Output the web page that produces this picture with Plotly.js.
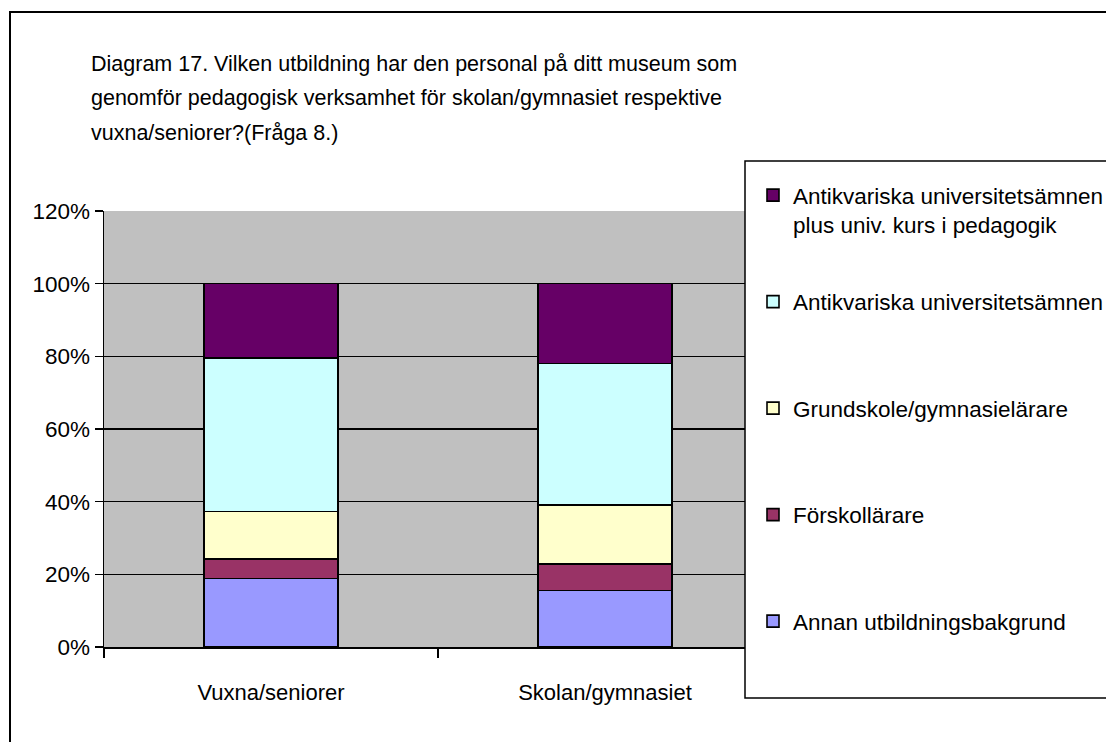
<!DOCTYPE html>
<html><head><meta charset="utf-8">
<script src="https://cdn.plot.ly/plotly-3.0.1.min.js"></script>
<style>html,body{margin:0;padding:0;background:#fff}#chart{width:1106px;height:742px}</style>
</head><body><div id="chart"></div>
<script>
// ---- data ----
const categories = ['Vuxna/seniorer', 'Skolan/gymnasiet'];
const annan = [18.8, 15.5];          // Annan utbildningsbakgrund
const forskol = [5.5, 7.3];          // Förskollärare
const grundskole = [13.0, 16.3];     // Grundskole/gymnasielärare
const antikv = [42.2, 38.9];         // Antikvariska universitetsämnen
const antikvPed = [20.5, 22.0];      // Antikvariska universitetsämnen plus univ. kurs i pedagogik
const seriesNames = [
  'Annan utbildningsbakgrund',
  'Förskollärare',
  'Grundskole/gymnasielärare',
  'Antikvariska universitetsämnen',
  'Antikvariska universitetsämnen<br>plus univ. kurs i pedagogik'
];
const seriesValues = [annan, forskol, grundskole, antikv, antikvPed];
const seriesColors = ['#9999FF', '#993366', '#FFFFCC', '#CCFFFF', '#660066'];
const yTickVals = [0, 20, 40, 60, 80, 100, 120];
const yTickText = ['0%', '20%', '40%', '60%', '80%', '100%', '120%'];
const titleLines = [
  'Diagram 17. Vilken utbildning har den personal på ditt museum som',
  'genomför pedagogisk verksamhet för skolan/gymnasiet respektive',
  'vuxna/seniorer?(Fråga 8.)'
];

// ---- geometry ----
const W = 1106, H = 742;
const M = {l: 104, r: 334, t: 211, b: 95};
const PW = W - M.l - M.r, PH = H - M.t - M.b;
const px2x = p => (p - M.l) / PW;
const px2y = p => (H - M.b - p) / PH;
const FONT = 'Liberation Sans, Arial, sans-serif';

const traces = seriesNames.map((name, i) => ({
  type: 'bar',
  x: categories,
  y: seriesValues[i],
  name: name.indexOf('<br>') >= 0 ? name : name + '<br>&nbsp;',
  legendgroup: 'g' + i,
  legendrank: seriesNames.length - i,
  marker: {color: seriesColors[i], line: {color: '#000000', width: 1.6}},
  hoverinfo: 'x+y'
}));

const layout = {
  width: W, height: H,
  margin: {l: M.l, r: M.r, t: M.t, b: M.b, pad: 0, autoexpand: false},
  paper_bgcolor: '#FFFFFF',
  plot_bgcolor: '#C0C0C0',
  barmode: 'stack',
  bargap: 0.6,
  font: {family: FONT, size: 22, color: '#000000'},
  title: {
    text: titleLines.map(t => '<span style="font-size:21.5px">' + t + '</span>').join('<br>'),
    font: {family: FONT, size: 26.5, color: '#000000'},
    xref: 'container', x: 91 / W, xanchor: 'left',
    yref: 'container', y: 1 - 71 / H, yanchor: 'top'
  },
  xaxis: {
    type: 'category',
    range: [-0.5, 1.5],
    tickson: 'boundaries',
    ticks: 'outside', ticklen: 9, tickcolor: '#000', tickwidth: 1.5,
    showline: true, linecolor: '#000', linewidth: 1.5,
    showgrid: false,
    tickfont: {family: FONT, size: 22, color: '#000'},
    ticklabelstandoff: 25
  },
  yaxis: {
    range: [0, 120],
    tickmode: 'array',
    tickvals: yTickVals,
    ticktext: yTickText,
    ticks: 'outside', ticklen: 8, tickcolor: '#000', tickwidth: 1.5,
    showline: true, mirror: true, linecolor: '#000', linewidth: 1.5,
    showgrid: true, gridcolor: '#000', gridwidth: 1.2,
    zeroline: false,
    tickfont: {family: FONT, size: 22.5, color: '#000'}
  },
  legend: {
    traceorder: 'grouped',
    tracegroupgap: 45,
    valign: 'top',
    x: px2x(753), xanchor: 'left',
    yref: 'container', y: 1 - 174 / H, yanchor: 'top',
    maxheight: 720,
    bgcolor: 'rgba(0,0,0,0)', borderwidth: 0,
    font: {family: FONT, size: 22.5, color: '#000'}
  },
  shapes: [
    {type: 'rect', xref: 'paper', yref: 'paper', layer: 'above',
     x0: px2x(745), x1: px2x(1130), y0: px2y(161), y1: px2y(698),
     fillcolor: '#FFFFFF', line: {color: '#000', width: 1.5}},
    {type: 'rect', xref: 'paper', yref: 'paper', layer: 'above',
     x0: px2x(10), x1: px2x(1130), y0: px2y(12), y1: px2y(770),
     fillcolor: 'rgba(0,0,0,0)', line: {color: '#000', width: 2}}
  ],
  showlegend: true
};

Plotly.newPlot('chart', traces, layout, {displayModeBar: false, staticPlot: true});
</script>
</body></html>
